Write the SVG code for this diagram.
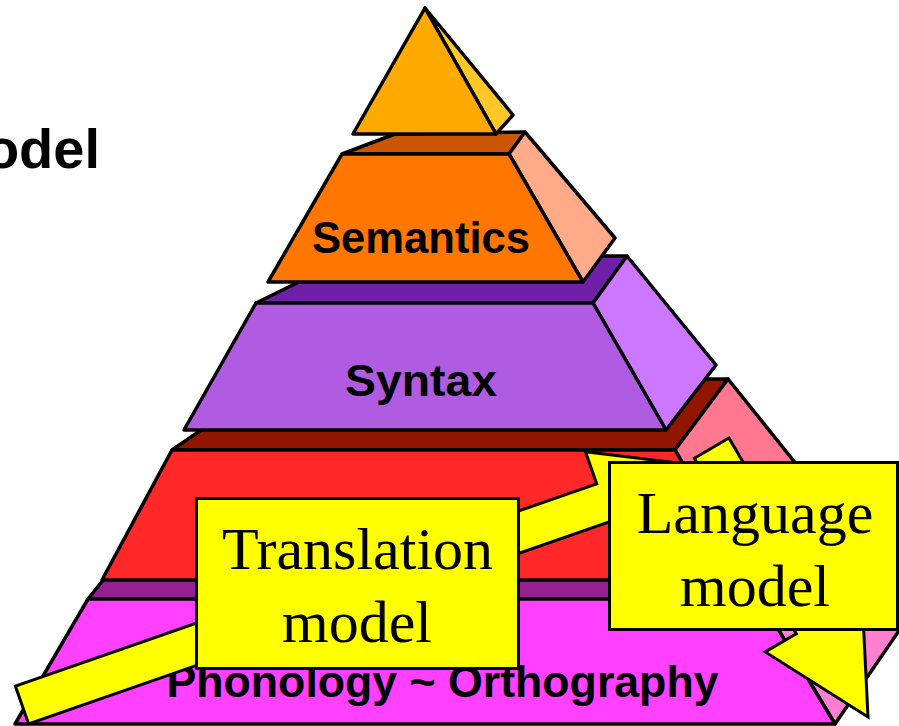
<svg xmlns="http://www.w3.org/2000/svg" width="899" height="726" viewBox="0 0 899 726">
  <style>
    .edge { stroke: #000; stroke-width: 3.5; stroke-linejoin: round; }
    .label { font-family: "Comic Sans MS", "Liberation Sans", sans-serif; font-weight: bold; font-size: 44px; fill: #000; text-anchor: middle; }
    .boxtext { font-family: "Liberation Serif", "Times New Roman", serif; font-size: 60px; fill: #000; text-anchor: middle; }
    .note { fill: #FFFF00; stroke: #000; stroke-width: 3; stroke-linejoin: miter; }
  </style>

  <rect width="899" height="726" fill="#FFFFFF"/>

  <!-- heading that runs off the left edge -->
  <text x="100" y="168" font-family="'Comic Sans MS', 'Liberation Sans', sans-serif" font-weight="bold" font-size="56" text-anchor="end">odel</text>

  <!-- bottom tier: phonology / orthography -->
  <g id="layer-phonology">
    <polygon class="edge" fill="#952090" points="88,599 135,540 830,512 760,599"/>
    <polygon class="edge" fill="#FF80D0" points="760,599 830,512 905,622 835,724"/>
    <polygon class="edge" fill="#FF40FF" points="88,599 760,599 835,724 15,724"/>
  </g>

  <!-- red tier -->
  <g id="layer-morphology">
    <polygon class="edge" fill="#921500" points="172,450 276,379 728,379 675,450"/>
    <polygon class="edge" fill="#FF7890" points="675,450 728,379 817,490 750,580"/>
    <polygon class="edge" fill="#FF2828" points="172,450 675,450 750,580 102,580"/>
  </g>

  <!-- syntax tier -->
  <g id="layer-syntax">
    <polygon class="edge" fill="#7020A8" points="256,303 352,256 627,256 593,303"/>
    <polygon class="edge" fill="#CC77FF" points="593,303 627,256 716,365 666,430"/>
    <polygon class="edge" fill="#B05CE2" points="256,303 593,303 666,430 184,430"/>
    <text class="label" x="421" y="396" textLength="152" lengthAdjust="spacingAndGlyphs">Syntax</text>
  </g>

  <!-- semantics tier -->
  <g id="layer-semantics">
    <polygon class="edge" fill="#CC5500" points="342,154 395,134 525,132 509,154"/>
    <polygon class="edge" fill="#FFAA88" points="509,154 525,132 615,238 583,282"/>
    <polygon class="edge" fill="#FF7700" points="342,154 509,154 583,282 268,282"/>
    <text class="label" x="421" y="253" textLength="218" lengthAdjust="spacingAndGlyphs">Semantics</text>
  </g>

  <!-- apex -->
  <g id="layer-apex">
    <polygon class="edge" fill="#FFC828" points="425,8 513,115 496,134"/>
    <polygon class="edge" fill="#FFAA00" points="425,8 496,134 353,134"/>
  </g>

  <text class="label" x="442.5" y="697" textLength="552" lengthAdjust="spacingAndGlyphs">Phonology ~ Orthography</text>

  <!-- block arrows -->
  <g id="connectors">
    <polygon class="note" points="15.4,686.1 596.7,483.8 585.5,451.7 707.2,466.5 621.1,553.7 609.9,521.6 28.6,723.9"/>
    <polygon class="note" points="729,438 830.9,613.6 862,595.5 868,717 765.2,651.9 796.3,633.8 694.4,458.2"/>
  </g>

  <g id="translation-model">
    <rect class="note" x="196.5" y="498.5" width="322" height="170"/>
    <text class="boxtext" x="357.5" y="569">Translation</text>
    <text class="boxtext" x="357" y="642">model</text>
  </g>

  <g id="language-model">
    <rect class="note" x="609.5" y="462.5" width="288" height="167"/>
    <text class="boxtext" x="755" y="533">Language</text>
    <text class="boxtext" x="755" y="606">model</text>
  </g>
</svg>
